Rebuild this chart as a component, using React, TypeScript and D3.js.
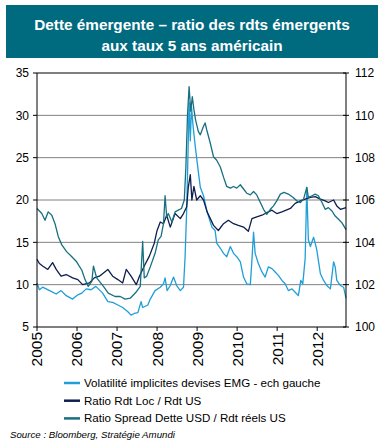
import React from 'react';
import * as d3 from 'd3';

// titre et légende
const titleLines = ['Dette émergente – ratio des rdts émergents', 'aux taux 5 ans américain'];
const seriesNames = [
  'Volatilité implicites devises EMG - ech gauche',
  'Ratio Rdt Loc / Rdt US',
  'Ratio Spread Dette USD / Rdt réels US',
];
const sourceText = 'Source : Bloomberg, Stratégie Amundi';

const years = [2005, 2006, 2007, 2008, 2009, 2010, 2011, 2012];
const leftTicks = [5, 10, 15, 20, 25, 30, 35];
const rightTicks = [100, 102, 104, 106, 108, 110, 112];

// [année, valeur] - échelle de gauche
const volatility: [number, number][] = [
  [2005.0, 10.2], [2005.06, 9.4], [2005.14, 9.7], [2005.23, 9.5], [2005.35, 9.2], [2005.48, 8.9],
  [2005.6, 9.3], [2005.73, 8.7], [2005.89, 8.3], [2006.02, 8.8], [2006.12, 9.0], [2006.23, 9.5],
  [2006.35, 9.4], [2006.47, 9.8], [2006.64, 9.0], [2006.77, 8.0], [2006.89, 7.9], [2007.02, 7.6],
  [2007.14, 7.3], [2007.27, 6.8], [2007.35, 6.4], [2007.43, 6.6], [2007.52, 6.7], [2007.6, 8.0],
  [2007.64, 7.3], [2007.77, 7.6], [2007.83, 8.3], [2007.95, 9.3], [2008.08, 9.7], [2008.16, 10.1],
  [2008.2, 10.8], [2008.25, 9.3], [2008.33, 9.9], [2008.41, 10.9], [2008.49, 9.9], [2008.58, 9.3],
  [2008.66, 9.7], [2008.7, 13.3], [2008.74, 18.9], [2008.77, 25.0], [2008.8, 31.5], [2008.83, 27.0],
  [2008.86, 31.0], [2008.9, 28.7], [2008.95, 26.5], [2009.0, 24.5], [2009.08, 21.5], [2009.16, 20.5],
  [2009.25, 18.6], [2009.37, 16.8], [2009.45, 16.4], [2009.49, 14.9], [2009.58, 14.3], [2009.66, 13.7],
  [2009.74, 13.3], [2009.83, 14.5], [2009.91, 13.7], [2009.99, 13.3], [2010.08, 12.7], [2010.16, 10.9],
  [2010.24, 10.1], [2010.33, 10.0], [2010.37, 12.9], [2010.41, 16.2], [2010.45, 13.7], [2010.53, 12.5],
  [2010.62, 11.5], [2010.7, 10.9], [2010.78, 12.1], [2010.87, 11.9], [2010.95, 11.5], [2011.03, 11.1],
  [2011.12, 10.5], [2011.2, 10.1], [2011.28, 9.3], [2011.37, 9.5], [2011.45, 9.1], [2011.53, 8.7],
  [2011.59, 10.5], [2011.64, 10.1], [2011.7, 13.1], [2011.74, 21.5], [2011.78, 15.3], [2011.83, 14.5],
  [2011.91, 15.6], [2011.95, 14.9], [2011.99, 14.1], [2012.08, 11.3], [2012.16, 10.5], [2012.24, 9.9],
  [2012.33, 9.5], [2012.41, 12.7], [2012.45, 12.1], [2012.49, 10.5], [2012.58, 9.9], [2012.66, 9.7],
  [2012.72, 8.4],
];

// échelle de droite
const ratioLoc: [number, number][] = [
  [2005.0, 103.2], [2005.06, 103.0], [2005.14, 102.88], [2005.27, 102.72], [2005.39, 103.04],
  [2005.48, 102.72], [2005.6, 102.4], [2005.73, 102.48], [2005.89, 102.32], [2006.02, 102.24],
  [2006.14, 102.0], [2006.31, 102.08], [2006.43, 102.32], [2006.56, 102.4], [2006.77, 102.72],
  [2006.89, 102.4], [2007.02, 102.24], [2007.14, 102.08], [2007.23, 102.72], [2007.35, 102.4],
  [2007.48, 102.0], [2007.56, 102.4], [2007.68, 102.88], [2007.81, 103.36], [2007.93, 103.96],
  [2008.0, 104.56], [2008.08, 104.96], [2008.16, 104.88], [2008.24, 105.28], [2008.33, 104.72],
  [2008.45, 105.36], [2008.58, 105.12], [2008.66, 105.36], [2008.74, 105.68], [2008.78, 106.6],
  [2008.83, 107.2], [2008.87, 106.0], [2008.92, 106.64], [2008.99, 106.0], [2009.08, 106.2],
  [2009.16, 106.0], [2009.25, 105.44], [2009.33, 105.12], [2009.41, 104.8], [2009.53, 104.56],
  [2009.66, 104.88], [2009.78, 105.04], [2009.91, 104.88], [2010.03, 104.8], [2010.16, 104.72],
  [2010.28, 104.52], [2010.37, 105.12], [2010.49, 105.2], [2010.62, 105.28], [2010.74, 105.4],
  [2010.87, 105.52], [2010.99, 105.36], [2011.12, 105.44], [2011.33, 105.6], [2011.45, 105.84],
  [2011.58, 105.96], [2011.7, 106.04], [2011.83, 106.12], [2011.95, 106.16], [2012.08, 106.04],
  [2012.2, 105.96], [2012.28, 105.88], [2012.41, 106.0], [2012.49, 105.72], [2012.58, 105.56],
  [2012.72, 105.64],
];

const ratioSpread: [number, number][] = [
  [2005.0, 105.6], [2005.12, 105.36], [2005.2, 105.04], [2005.28, 105.44], [2005.37, 105.28],
  [2005.45, 104.88], [2005.53, 104.28], [2005.62, 103.88], [2005.74, 103.56], [2005.87, 103.32],
  [2005.99, 103.08], [2006.12, 102.68], [2006.2, 102.24], [2006.28, 101.92], [2006.37, 102.16],
  [2006.41, 102.88], [2006.49, 102.32], [2006.66, 101.92], [2006.78, 101.6], [2006.95, 101.44],
  [2007.08, 101.44], [2007.2, 101.32], [2007.33, 101.36], [2007.49, 101.68], [2007.58, 101.92],
  [2007.64, 104.04], [2007.68, 102.32], [2007.74, 102.4], [2007.83, 102.84], [2007.95, 103.48],
  [2008.03, 104.12], [2008.1, 104.28], [2008.16, 104.88], [2008.2, 106.2], [2008.24, 105.2],
  [2008.28, 105.36], [2008.37, 104.96], [2008.45, 105.44], [2008.53, 105.52], [2008.61, 105.6],
  [2008.68, 106.0], [2008.72, 107.56], [2008.76, 110.0], [2008.8, 111.36], [2008.84, 110.2],
  [2008.88, 110.88], [2008.92, 110.28], [2008.96, 109.8], [2009.03, 109.24], [2009.08, 109.08],
  [2009.16, 109.48], [2009.2, 109.64], [2009.24, 109.32], [2009.33, 108.68], [2009.41, 108.04],
  [2009.49, 107.88], [2009.58, 107.56], [2009.66, 107.08], [2009.74, 106.64], [2009.83, 106.56],
  [2009.91, 106.64], [2009.99, 106.56], [2010.08, 106.72], [2010.16, 106.52], [2010.24, 106.32],
  [2010.33, 106.24], [2010.41, 106.4], [2010.49, 106.24], [2010.58, 105.88], [2010.66, 105.56],
  [2010.74, 105.32], [2010.83, 105.56], [2010.91, 105.72], [2010.99, 105.96], [2011.08, 106.28],
  [2011.17, 106.36], [2011.28, 106.28], [2011.4, 106.12], [2011.49, 105.96], [2011.58, 105.88],
  [2011.66, 106.04], [2011.74, 106.6], [2011.78, 106.12], [2011.87, 106.2], [2011.95, 106.28],
  [2012.03, 106.2], [2012.12, 105.88], [2012.2, 105.56], [2012.28, 105.64], [2012.37, 105.48],
  [2012.45, 105.24], [2012.54, 105.08], [2012.62, 104.92], [2012.72, 104.6],
];

const colors = ['#1f9ed8', '#0e1e4e', '#17707f'];
const font = 'Arial, "Liberation Sans", sans-serif';

const W = 386, H = 446;
const plot = { left: 37, right: 346, top: 73, bottom: 327 };

export default function App() {
  const x = d3.scaleLinear().domain([2005, 2012.72]).range([plot.left, plot.right]);
  const yL = d3.scaleLinear().domain([5, 35]).range([plot.bottom, plot.top]);
  const yR = d3.scaleLinear().domain([100, 112]).range([plot.bottom, plot.top]);

  const lineL = d3.line<[number, number]>().x(d => x(d[0])).y(d => yL(d[1]));
  const lineR = d3.line<[number, number]>().x(d => x(d[0])).y(d => yR(d[1]));

  const paths = [lineL(volatility), lineR(ratioLoc), lineR(ratioSpread)];

  return (
    <svg width={W} height={H} style={{ position: 'absolute', left: 0, top: 0 }} fontFamily={font}>
      <rect x={0} y={0} width={W} height={H} fill="#fff" />
      {/* titre */}
      <rect x={6} y={5} width={372} height={53} fill="#006a7f" />
      {titleLines.map((t, i) => (
        <text key={i} x={192} y={30 + i * 20.5} textAnchor="middle" fill="#fff"
          fontSize={15.3} fontWeight="bold">{t}</text>
      ))}

      {/* grille */}
      {leftTicks.slice(1, -1).map(t => (
        <line key={t} x1={plot.left} x2={plot.right} y1={yL(t)} y2={yL(t)} stroke="#808080" strokeWidth={1} />
      ))}

      {/* courbes */}
      {paths.map((d, i) => (
        <path key={i} d={d ?? ''} fill="none" stroke={colors[i]} strokeWidth={1.3} strokeLinejoin="round" />
      ))}

      {/* axes */}
      <g stroke="#000" strokeWidth={1}>
        <line x1={plot.left} x2={plot.right} y1={plot.top} y2={plot.top} />
        <line x1={plot.left} x2={plot.right} y1={plot.bottom} y2={plot.bottom} />
        <line x1={plot.left} x2={plot.left} y1={plot.top} y2={plot.bottom} />
        <line x1={plot.right} x2={plot.right} y1={plot.top} y2={plot.bottom} />
        {leftTicks.map(t => (
          <line key={t} x1={plot.left - 4} x2={plot.left} y1={yL(t)} y2={yL(t)} />
        ))}
        {rightTicks.map(t => (
          <line key={t} x1={plot.right - 3} x2={plot.right + 3} y1={yR(t)} y2={yR(t)} />
        ))}
        {years.map(t => (
          <line key={t} x1={x(t)} x2={x(t)} y1={plot.bottom} y2={plot.bottom + 4} />
        ))}
      </g>

      <g fontSize={12} fill="#000">
        {leftTicks.map(t => (
          <text key={t} x={plot.left - 8} y={yL(t)} dy="0.35em" textAnchor="end">{t}</text>
        ))}
        {rightTicks.map(t => (
          <text key={t} x={plot.right + 9} y={yR(t)} dy="0.35em">{t}</text>
        ))}
      </g>
      <g fontSize={15.5} fill="#000">
        {years.map(t => (
          <text key={t} transform={`translate(${x(t)},${plot.bottom + 5}) rotate(-90)`}
            textAnchor="end" dy="0.35em">{t}</text>
        ))}
      </g>

      {/* légende */}
      {seriesNames.map((n, i) => (
        <g key={n} transform={`translate(64,${383 + i * 17.7})`}>
          <line x1={0} x2={16} y1={0} y2={0} stroke={colors[i]} strokeWidth={2.5} />
          <text x={20} y={0} dy="0.35em" fontSize={11.6} fill="#000">{n}</text>
        </g>
      ))}
      <text x={10} y={438} fontSize={9.7} fontStyle="italic" fill="#000">{sourceText}</text>
    </svg>
  );
}
